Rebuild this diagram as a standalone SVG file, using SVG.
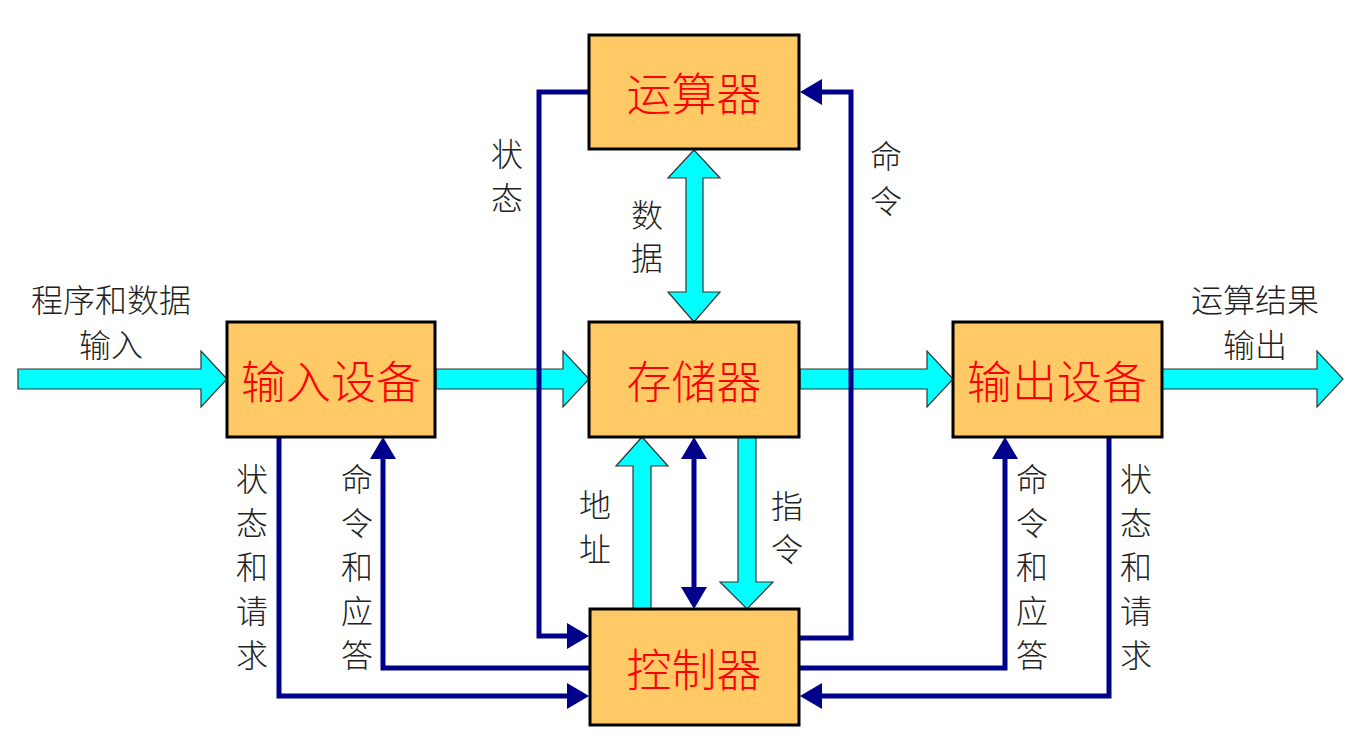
<svg xmlns="http://www.w3.org/2000/svg" width="1368" height="739" viewBox="0 0 1368 739">
<style>
.box{fill:#FFC966;stroke:#000;stroke-width:3}
.title{font-family:"Noto Sans CJK SC","Noto Sans",sans-serif;font-size:45px;font-weight:300;fill:#FF0000;text-anchor:middle;dominant-baseline:central}
.lbl{font-family:"Noto Sans CJK SC","Noto Sans",sans-serif;font-size:32px;font-weight:300;fill:#222;text-anchor:middle;dominant-baseline:central}
.fat{fill:#00FFFF;stroke:#333;stroke-width:1.2}
.ln{fill:none;stroke:#00008B;stroke-width:5;stroke-linejoin:miter}
.ah{marker-end:url(#ah)}
</style>
<defs>
<marker id="ah" viewBox="0 0 22 26" refX="12" refY="13" markerWidth="22" markerHeight="26" markerUnits="userSpaceOnUse" orient="auto-start-reverse">
<path d="M0,0 L22,13 L0,26 z" fill="#00008B"/>
</marker>
</defs>
<rect width="1368" height="739" fill="#fff"/>
<g id="connectors">
<polygon class="fat" points="18,369 201,369 201,351 227,379 201,407 201,389 18,389"/>
<polygon class="fat" points="436,369 563,369 563,351 589,379 563,407 563,389 436,389"/>
<polygon class="fat" points="800,369 927,369 927,351 953,379 927,407 927,389 800,389"/>
<polygon class="fat" points="1162,369 1317,369 1317,351 1343,379 1317,407 1317,389 1162,389"/>
<polygon class="fat" points="694,150 720,178 703,178 703,292 720,292 694,322 668,292 686,292 686,178 668,178"/>
<polygon class="fat" points="642,437 668,466 651,466 651,609 633,609 633,466 616,466"/>
<polygon class="fat" points="738,437 756,437 756,582 773,582 747,609 720,582 738,582"/>
<path class="ln ah" d="M589,92 H539 V636 H579"/>
<path class="ln ah" d="M800,638 H851 V92 H810"/>
<path class="ln ah" d="M694,447 V599" marker-start="url(#ah)"/>
<path class="ln ah" d="M279,437 V696 H579"/>
<path class="ln ah" d="M590,668 H383 V447"/>
<path class="ln ah" d="M799,668 H1005 V447"/>
<path class="ln ah" d="M1109,437 V696 H810"/>
</g>
<g id="alu"><rect class="box" x="589" y="35" width="210" height="114"/><text class="title" x="694" y="91">运算器</text></g>
<g id="memory"><rect class="box" x="589" y="322" width="210" height="115"/><text class="title" x="694" y="379">存储器</text></g>
<g id="input"><rect class="box" x="227" y="322" width="208" height="115"/><text class="title" x="331" y="379">输入设备</text></g>
<g id="output"><rect class="box" x="953" y="322" width="209" height="115"/><text class="title" x="1057" y="379">输出设备</text></g>
<g id="control"><rect class="box" x="590" y="609" width="209" height="116"/><text class="title" x="694" y="667">控制器</text></g>
<g id="labels">
<text class="lbl" x="111" y="298">程序和数据</text>
<text class="lbl" x="111" y="343">输入</text>
<text class="lbl" x="1255" y="298">运算结果</text>
<text class="lbl" x="1255" y="343">输出</text>
<text class="lbl" x="507" y="152">状</text><text class="lbl" x="507" y="196">态</text>
<text class="lbl" x="886" y="154">命</text><text class="lbl" x="886" y="199">令</text>
<text class="lbl" x="647" y="213">数</text><text class="lbl" x="647" y="256">据</text>
<text class="lbl" x="595" y="503">地</text><text class="lbl" x="595" y="547">址</text>
<text class="lbl" x="787" y="504">指</text><text class="lbl" x="787" y="547">令</text>
<text class="lbl" x="252" y="477">状</text><text class="lbl" x="252" y="521">态</text><text class="lbl" x="252" y="565">和</text><text class="lbl" x="252" y="609">请</text><text class="lbl" x="252" y="653">求</text>
<text class="lbl" x="357" y="477">命</text><text class="lbl" x="357" y="521">令</text><text class="lbl" x="357" y="565">和</text><text class="lbl" x="357" y="609">应</text><text class="lbl" x="357" y="653">答</text>
<text class="lbl" x="1032" y="477">命</text><text class="lbl" x="1032" y="521">令</text><text class="lbl" x="1032" y="565">和</text><text class="lbl" x="1032" y="609">应</text><text class="lbl" x="1032" y="653">答</text>
<text class="lbl" x="1136" y="477">状</text><text class="lbl" x="1136" y="521">态</text><text class="lbl" x="1136" y="565">和</text><text class="lbl" x="1136" y="609">请</text><text class="lbl" x="1136" y="653">求</text>
</g>
</svg>
